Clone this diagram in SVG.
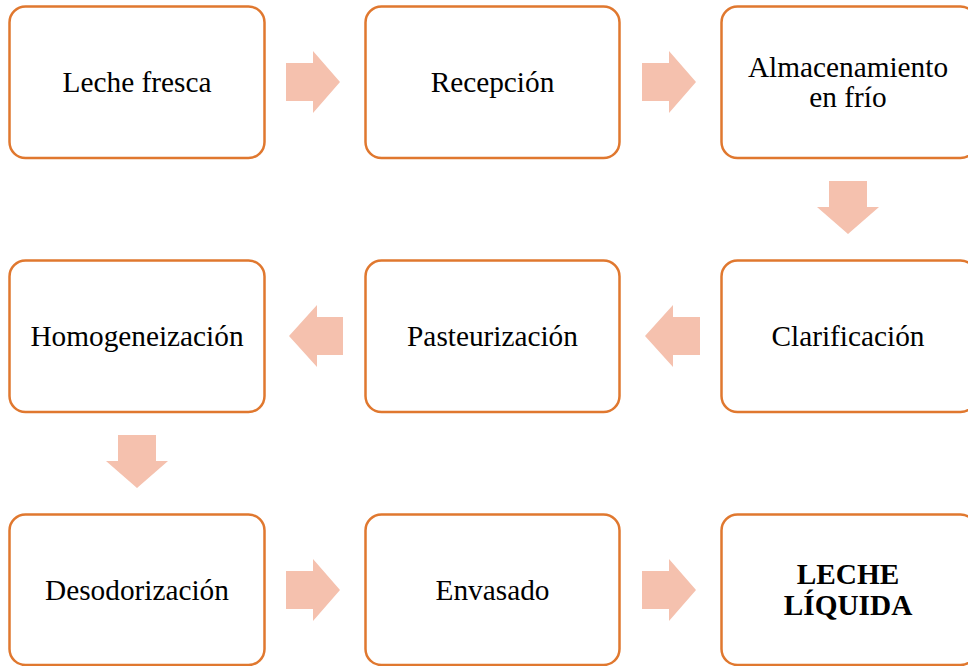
<svg xmlns="http://www.w3.org/2000/svg" width="968" height="666" viewBox="0 0 968 666">
<style>
.box{fill:#FFFFFF;stroke:#E0782F;stroke-width:2.5}
.t{font-family:"Liberation Serif","Times New Roman",serif;font-size:29.3px;fill:#000000;text-anchor:middle}
.b{font-weight:bold;font-size:29.3px}
.arr{fill:#F5C1AE}
</style>
<rect width="968" height="666" fill="#FFFFFF"/>
<defs>
<path id="ar" d="M0,-19 H27 V-31 L54,0 L27,31 V19 H0 Z"/>
<path id="ad" d="M-19,0 H19 V26 H31 L0,53 L-31,26 H-19 Z"/>
</defs>
<g id="connectors">
<use href="#ar" class="arr" x="286" y="82"/>
<use href="#ar" class="arr" x="642" y="82"/>
<use href="#ad" class="arr" x="848" y="181"/>
<path class="arr" d="M700,317 H673 V305 L645,336 L673,367 V355 H700 Z"/>
<path class="arr" d="M343,317 H317 V305 L289,336 L317,367 V355 H343 Z"/>
<use href="#ad" class="arr" x="137" y="435"/>
<use href="#ar" class="arr" x="286" y="590"/>
<use href="#ar" class="arr" x="642" y="590"/>
</g>
<g id="n1"><rect class="box" x="9.5" y="6.5" width="255" height="151.5" rx="16"/><text class="t" x="137" y="92">Leche fresca</text></g>
<g id="n2"><rect class="box" x="365.5" y="6.5" width="254" height="151.5" rx="16"/><text class="t" x="492.5" y="92">Recepción</text></g>
<g id="n3"><rect class="box" x="721.5" y="6.5" width="255" height="151.5" rx="16"/><text class="t" x="848" y="77">Almacenamiento</text><text class="t" x="848" y="107">en frío</text></g>
<g id="n4"><rect class="box" x="721.5" y="260.5" width="255" height="151.5" rx="16"/><text class="t" x="848" y="346">Clarificación</text></g>
<g id="n5"><rect class="box" x="365.5" y="260.5" width="254" height="151.5" rx="16"/><text class="t" x="492.5" y="346">Pasteurización</text></g>
<g id="n6"><rect class="box" x="9.5" y="260.5" width="255" height="151.5" rx="16"/><text class="t" x="137" y="346">Homogeneización</text></g>
<g id="n7"><rect class="box" x="9.5" y="514.5" width="255" height="150.5" rx="16"/><text class="t" x="137" y="600">Desodorización</text></g>
<g id="n8"><rect class="box" x="365.5" y="514.5" width="254" height="150.5" rx="16"/><text class="t" x="492.5" y="600">Envasado</text></g>
<g id="n9"><rect class="box" x="721.5" y="514.5" width="255" height="150.5" rx="16"/><text class="t b" x="848" y="584">LECHE</text><text class="t b" x="848" y="615">LÍQUIDA</text></g>
</svg>
